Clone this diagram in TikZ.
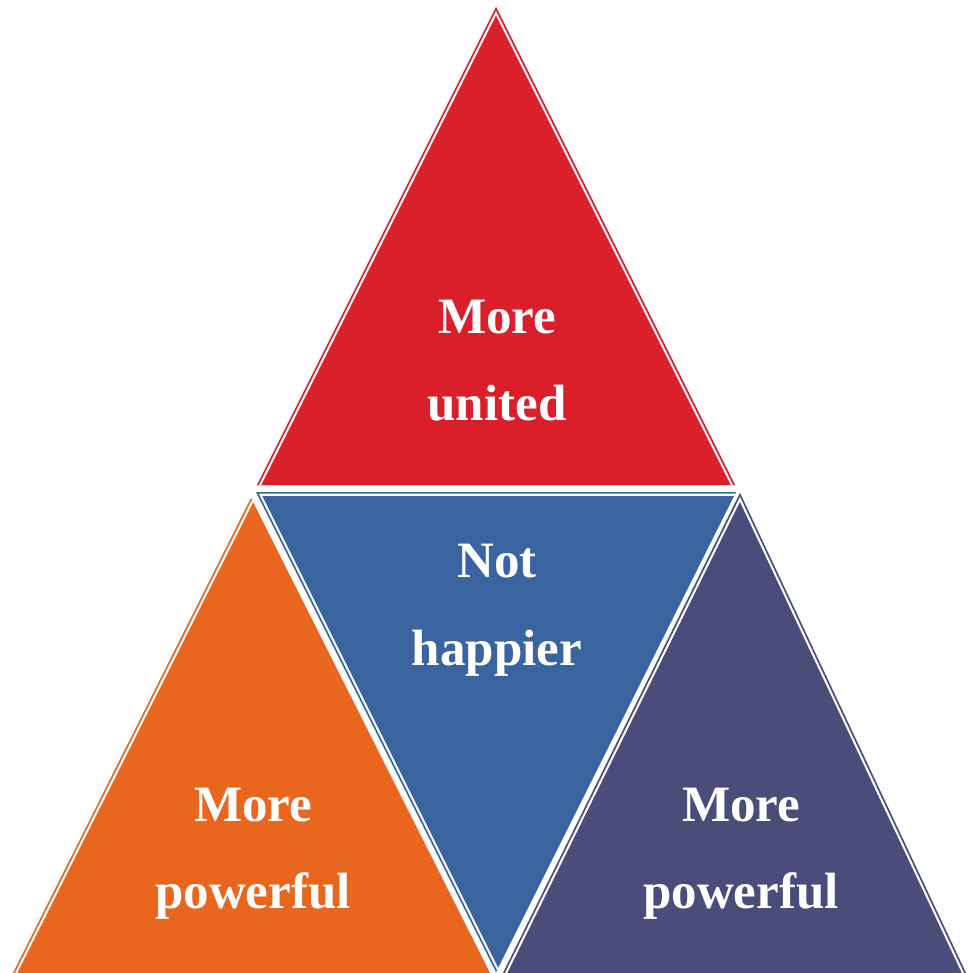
\documentclass[tikz,border=0pt]{standalone}
\usepackage{fontspec}
\setmainfont{Liberation Serif}
\usepackage{tikz}
\definecolor{triRed}{HTML}{DA1F2A}
\definecolor{triBlue}{HTML}{3A64A0}
\definecolor{triOrange}{HTML}{E9661E}
\definecolor{triPurple}{HTML}{4A4C79}
\tikzset{
	lbl/.style={anchor=base, text=white, font=\fontsize{51}{51}\selectfont\bfseries, inner sep=0pt},
}
% fill a triangle, then put the thin outer line and white gap along the given edges
\def\tri[#1](#2)(#3)(#4)#5{%
	\fill[#1] (#2) -- (#3) -- (#4) -- cycle;
	\begin{scope}
		\clip (#2) -- (#3) -- (#4) -- cycle;
		\draw[white, line width=7.5, line join=miter] #5;
		\draw[#1, line width=3.2, line join=miter] #5;
	\end{scope}}

\begin{document}
\begin{tikzpicture}[x=1pt, y=-1pt]
		%%%%% START %%%%%
		\useasboundingbox (0, 0) rectangle (967, 973);
		
		% top
		\tri[triRed](496, 7)(257, 485)(735, 485){(257, 485) -- (496, 7) -- (735, 485)};
		
		% middle, upside down
		\tri[triBlue](256, 492)(736, 492)(496, 972){(496, 972) -- (256, 492) -- (736, 492)};
		
		% bottom left
		\tri[triOrange](251, 498)(13, 973)(490, 973){(251, 498) -- (13, 973)};
		
		% bottom right
		\tri[triPurple](740, 493)(503, 973)(966, 973){(503, 973) -- (740, 493) -- (966, 973)};
		
		\node[lbl] (red1) at (497, 333) {More};
		\node[lbl] (red2) at (497, 420) {united};
		
		\node[lbl] (blue1) at (497, 577) {Not};
		\node[lbl] (blue2) at (497, 665) {happier};
		
		\node[lbl] (orange1) at (253, 821) {More};
		\node[lbl] (orange2) at (253, 908) {powerful};
		
		\node[lbl] (purple1) at (741, 821) {More};
		\node[lbl] (purple2) at (741, 908) {powerful};
		
		%%%%% END %%%%%
	\end{tikzpicture}
\end{document}
